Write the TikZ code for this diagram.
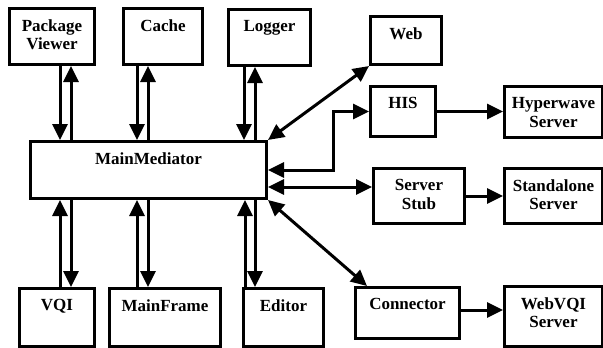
\documentclass[tikz,border=0pt]{standalone}
\usepackage{fontspec}
\setmainfont{Liberation Serif}
\usetikzlibrary{arrows.meta,calc}

\tikzset{
  box/.style={draw, line width=3pt, rectangle, anchor=north west, inner sep=0pt},
  lbl/.style={anchor=north, inner sep=0pt, yshift=-12.5pt, align=center,
               font=\fontsize{17}{18.5}\selectfont\bfseries},
  arr/.style={line width=3pt, -{Triangle[length=16pt,width=15pt]}},
  dbl/.style={line width=3pt, {Triangle[length=16pt,width=15pt]}-{Triangle[length=16pt,width=15pt]}},
}

\newcommand{\mkbox}[6]{% name, x0, y0, x1, y1, text
  \node[box, minimum width={(#4-#2)*1pt}, minimum height={(#5-#3)*1pt},
        label={[lbl]north:#6}] (#1) at (#2,#3) {};}

\begin{document}
\begin{tikzpicture}[x=1pt, y=-1pt]
  \useasboundingbox (0,0) rectangle (603,348);

  % boxes
  \mkbox{pv}{8}{7}{93}{63}{Package\\Viewer}
  \mkbox{cache}{122}{7}{201}{63}{Cache}
  \mkbox{logger}{227}{8}{309}{64}{Logger}
  \mkbox{web}{369}{15}{440}{63}{Web}
  \mkbox{his}{369}{85}{434}{135}{HIS}
  \mkbox{hyper}{503}{85}{601}{136}{Hyperwave\\Server}
  \mkbox{mm}{29}{140}{265}{197}{MainMediator}
  \mkbox{stub}{372}{167}{463}{222}{Server\\Stub}
  \mkbox{stand}{503}{167}{601}{222}{Standalone\\Server}
  \mkbox{conn}{354}{286}{458}{337}{Connector}
  \mkbox{webvqi}{503}{285}{601}{345}{WebVQI\\Server}
  \mkbox{vqi}{18}{287}{93}{345}{VQI}
  \mkbox{mf}{108}{287}{219}{345}{MainFrame}
  \mkbox{editor}{242}{287}{322}{345}{Editor}

  % upper components <-> mediator
  \draw[arr] (pv.south -| 60,0) -- (mm.north -| 60,0);
  \draw[arr] (mm.north -| 71,0) -- (pv.south -| 71,0);
  \draw[arr] (cache.south -| 137,0) -- (mm.north -| 137,0);
  \draw[arr] (mm.north -| 148,0) -- (cache.south -| 148,0);
  \draw[arr] (logger.south -| 244,0) -- (mm.north -| 244,0);
  \draw[arr] (mm.north -| 255,0) -- (logger.south -| 255,0);

  % lower components <-> mediator
  \draw[arr] (vqi.north -| 60,0) -- (mm.south -| 60,0);
  \draw[arr] (mm.south -| 71,0) -- (vqi.north -| 71,0);
  \draw[arr] (mf.north -| 137,0) -- (mm.south -| 137,0);
  \draw[arr] (mm.south -| 148,0) -- (mf.north -| 148,0);
  \draw[arr] (editor.north -| 245,0) -- (mm.south -| 245,0);
  \draw[arr] (mm.south -| 255,0) -- (editor.north -| 255,0);

  % right-hand side
  \draw[dbl] (mm.north east) -- (web.south west);
  \draw[dbl] (mm.east |- 0,170) -- (333,170) |- (his.west);
  \draw[dbl] (mm.east |- 0,187) -- (stub.west |- 0,187);
  \draw[dbl] (mm.south east) -- ($(conn.north west)+(13,0)$);

  \draw[arr] (his.east) -- (hyper.west |- his.east);
  \draw[arr] (stub.east) -- (stand.west |- stub.east);
  \draw[arr] (conn.east |- 0,310) -- (webvqi.west |- 0,310);
\end{tikzpicture}
\end{document}
